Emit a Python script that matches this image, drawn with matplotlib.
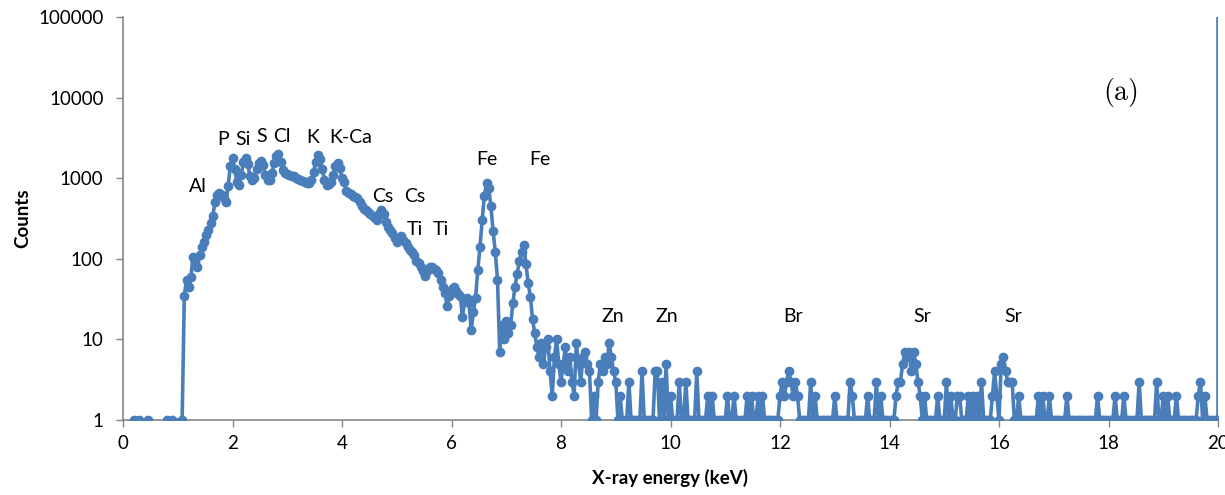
import numpy as np
import matplotlib
matplotlib.use("Agg")
import matplotlib.pyplot as plt

# ---------------- data ----------------
STEP = 0.04  # keV spacing of the channels listed below

# isolated low-energy channels (0 = empty channel, not drawn on log axis)
pre_energy = [0.20, 0.30, 0.46, 0.62, 0.80, 0.90]
pre_counts = [1, 1, 1, 0, 1, 1]

# 1.08 .. 4.00 keV
low_start = 1.08
low_counts = [
    1, 35, 55, 45, 60, 105, 90, 80, 110, 140,
    160, 200, 230, 280, 340, 500, 620, 650, 620, 560,
    500, 800, 1400, 1780, 1300, 900, 830, 1100, 1600, 1800,
    1500, 1050, 950, 1000, 1300, 1550, 1620, 1450, 1100, 950,
    960, 1150, 1550, 1900, 2000, 1600, 1250, 1150, 1120, 1100,
    1080, 1050, 1020, 990, 960, 930, 900, 880, 870, 950,
    1200, 1600, 1950, 1750, 1300, 950, 830, 850, 900, 1100,
    1400, 1530, 1350, 1000,
]

# 4.04 .. 8.00 keV
mid_start = 4.04
mid_counts = [
    900, 700, 650, 640, 600, 580, 560, 500, 450, 420,
    400, 380, 360, 340, 320, 300, 360, 400, 360, 290,
    250, 227, 210, 180, 160, 175, 190, 170, 155, 140,
    130, 120, 110, 95, 88, 80, 70, 62, 70, 78,
    80, 75, 72, 66, 55, 45, 38, 26, 35, 42,
    45, 40, 37, 35, 19, 30, 33, 28, 13, 22,
    33, 72, 140, 300, 600, 870, 750, 450, 220, 120,
    55, 7, 15, 10, 17, 12, 15, 28, 45, 65,
    95, 120, 148, 85, 50, 34, 18, 12, 8, 6,
    9, 5, 8, 10, 4, 2, 6, 10, 5, 3,
]

# 8.04 .. 20.00 keV (one row per keV)
noise_start = 8.04
noise_counts = [
    5, 8, 4, 6, 3, 2, 9, 5, 3, 6, 7, 5, 4, 1, 2, 1, 3, 5, 4, 6, 5, 9, 6, 4, 3,
    1, 2, 1, 1, 1, 3, 1, 1, 1, 1, 1, 4, 1, 1, 1, 1, 1, 4, 4, 1, 3, 1, 5, 1, 2,
    1, 1, 1, 3, 1, 1, 3, 1, 1, 1, 1, 4, 1, 1, 1, 1, 2, 1, 2, 1, 1, 1, 1, 1, 1,
    2, 1, 1, 2, 1, 1, 1, 1, 1, 2, 1, 2, 1, 1, 2, 1, 2, 1, 1, 1, 1, 1, 1, 1, 2,
    3, 2, 3, 4, 3, 2, 3, 2, 1, 1, 1, 1, 1, 3, 1, 2, 1, 1, 1, 1, 1, 1, 1, 1, 2,
    1, 1, 1, 1, 1, 1, 3, 2, 1, 1, 1, 1, 1, 1, 2, 1, 1, 1, 3, 1, 2, 1, 1, 1, 1,
    1, 1, 2, 3, 3, 5, 7, 6, 7, 4, 7, 5, 3, 2, 1, 2, 1, 1, 1, 1, 1, 2, 1, 1, 1,
    3, 1, 2, 1, 1, 2, 2, 1, 1, 1, 2, 1, 2, 1, 2, 1, 3, 1, 1, 1, 1, 2, 4, 2, 1,
    5, 6, 4, 3, 3, 3, 1, 1, 2, 1, 1, 1, 1, 1, 1, 1, 1, 2, 1, 2, 1, 1, 2, 1, 1,
    1, 1, 1, 1, 1, 2, 1, 1, 1, 1, 1, 1, 1, 1, 1, 1, 1, 1, 1, 2, 1, 1, 1, 1, 1,
    1, 1, 2, 1, 1, 1, 2, 1, 1, 1, 1, 1, 1, 3, 1, 1, 1, 1, 1, 1, 1, 3, 1, 1, 2,
    1, 2, 1, 1, 1, 2, 1, 1, 1, 1, 1, 1, 1, 1, 1, 2, 3, 1, 2, 1, 1, 1, 1, 1, 1,
]

# last channel at the edge runs off the top of the chart
tail_energy = [20.0]
tail_counts = [1e6]

peak_labels = ["Al", "P", "Si", "S", "Cl", "K", "K-Ca", "Cs", "Cs", "Ti", "Ti",
               "Fe", "Fe", "Zn", "Zn", "Br", "Sr", "Sr"]
peak_label_x = [1.37, 1.83, 2.19, 2.54, 2.90, 3.47, 4.15, 4.75, 5.33, 5.33, 5.81,
                6.65, 7.62, 8.95, 9.94, 12.24, 14.59, 16.26]
peak_label_y = [780, 2980, 2980, 3245, 3245, 3155, 3155, 601, 601, 234, 234,
                1683, 1683, 19.5, 19.5, 19.5, 19.5, 19.5]

x_ticks = [0, 2, 4, 6, 8, 10, 12, 14, 16, 18, 20]
y_ticks = [1, 10, 100, 1000, 10000, 100000]
y_tick_labels = ["1", "10", "100", "1000", "10000", "100000"]

# ---------------- assemble ----------------
def seg(start, vals):
    return start + STEP * np.arange(len(vals)), np.asarray(vals, dtype=float)

e_low, c_low = seg(low_start, low_counts)
e_mid, c_mid = seg(mid_start, mid_counts)
e_noi, c_noi = seg(noise_start, noise_counts)

energy = np.concatenate([pre_energy, e_low, e_mid, e_noi, tail_energy])
counts = np.concatenate([np.asarray(pre_counts, float), c_low, c_mid, c_noi,
                         np.asarray(tail_counts, float)])
counts = np.where(counts > 0, counts, np.nan)

# ---------------- plot ----------------
plt.rcParams['font.family'] = ['Lato', 'DejaVu Sans']
fig = plt.figure(figsize=(12.25, 4.95), dpi=100)
ax = fig.add_axes([123 / 1225, 1 - 420 / 495, (1218 - 123) / 1225, (420 - 17) / 495])

color = '#4a7ebb'
ax.plot(energy, counts, color=color, lw=2.6, marker='o', ms=6.0,
        mec=color, mfc=color, zorder=3)

ax.set_yscale('log')
ax.set_xlim(0, 20)
ax.set_ylim(1, 100000)
ax.set_xticks(x_ticks)
ax.set_xticklabels([str(t) for t in x_ticks])
ax.set_yticks(y_ticks)
ax.set_yticklabels(y_tick_labels)
ax.yaxis.set_minor_locator(matplotlib.ticker.NullLocator())

gray = '#868686'
for s in ['top', 'right']:
    ax.spines[s].set_visible(False)
for s in ['left', 'bottom']:
    ax.spines[s].set_color(gray)
    ax.spines[s].set_linewidth(1.2)
ax.tick_params(axis='both', colors=gray, labelcolor='black', labelsize=13.5,
               length=5, width=1.0, direction='out')
ax.tick_params(axis='x', pad=6)
ax.tick_params(axis='y', pad=9)

ax.set_xlabel('X-ray energy (keV)', fontsize=13.5, fontweight='bold', labelpad=12)
ax.set_ylabel('Counts', fontsize=13.5, fontweight='bold', labelpad=5)

for t, x, y in zip(peak_labels, peak_label_x, peak_label_y):
    ax.text(x, y, t, ha='center', va='center', fontsize=14, color='black', zorder=4)

ax.text(18.21, 11700, r'$\mathrm{(a)}$', ha='center', va='center', fontsize=20,
        color='black', math_fontfamily='cm')

fig.savefig('out.png', dpi=100)
